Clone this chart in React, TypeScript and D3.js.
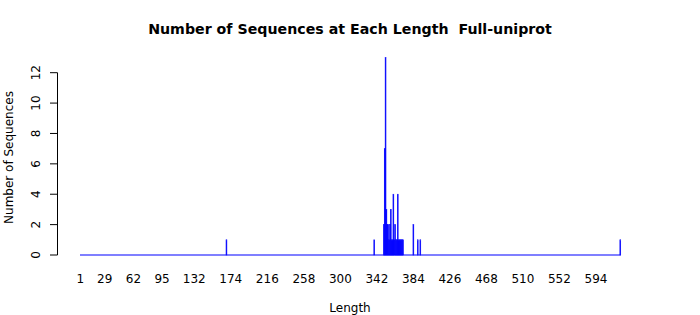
import React from "react";
import * as d3 from "d3";

const minLength = 1;
const maxLength = 622;
const barLengths = [169, 339, 350, 351, 352, 353, 354, 355, 356, 357, 358, 359, 360, 361, 362, 363, 364, 365, 366, 367, 368, 369, 370, 371, 372, 384, 389, 392, 622];
const barCounts = [1, 1, 2, 7, 13, 3, 2, 2, 1, 2, 3, 1, 1, 4, 1, 2, 1, 1, 4, 1, 1, 1, 1, 1, 1, 2, 1, 1, 1];
const xTickLabels = [1, 29, 62, 95, 132, 174, 216, 258, 300, 342, 384, 426, 468, 510, 552, 594];
const yTicks = [0, 2, 4, 6, 8, 10, 12];

const W = 700;
const H = 315;
const FONT = "DejaVu Sans, Verdana, sans-serif";

export default function App() {
  const x = d3.scaleLinear().domain([minLength, maxLength]).range([80.4, 620.3]);
  const y = d3.scaleLinear().domain([0, 12]).range([255, 72.7]);
  const step = x(2) - x(1);
  const bw = step * 0.95;
  const y0 = y(0);

  return (
    <svg width={W} height={H} style={{ position: "absolute", left: 0, top: 0, background: "#fff" }}>
      <rect x={0} y={0} width={W} height={H} fill="#fff" />
      <text x={350} y={34} textAnchor="middle" fontFamily={FONT} fontWeight="bold" fontSize={14.2} style={{ whiteSpace: "pre" }}>
        {"Number of Sequences at Each Length  Full-uniprot"}
      </text>
      {/* baseline formed by zero-height bars */}
      <line x1={x(minLength) - bw / 2} x2={x(maxLength) + bw / 2} y1={y0} y2={y0} stroke="#0000ff" strokeWidth={1.2} />
      {barLengths.map((len, i) => (
        <rect
          key={i}
          x={x(len) - bw / 2}
          y={y(barCounts[i])}
          width={bw}
          height={y0 - y(barCounts[i])}
          fill="#0000ff"
          stroke="#0000ff"
          strokeWidth={0.6}
        />
      ))}
      {/* y axis */}
      <line x1={57.5} x2={57.5} y1={y(0)} y2={y(12)} stroke="#000" strokeWidth={1} />
      {yTicks.map((t) => (
        <g key={t}>
          <line x1={50} x2={57.5} y1={y(t)} y2={y(t)} stroke="#000" strokeWidth={1} />
          <text
            transform={`translate(${40},${y(t)}) rotate(-90)`}
            textAnchor="middle"
            fontFamily={FONT}
            fontSize={12}
          >
            {t}
          </text>
        </g>
      ))}
      {xTickLabels.map((t) => (
        <text key={t} x={x(t)} y={283} textAnchor="middle" fontFamily={FONT} fontSize={12}>
          {t}
        </text>
      ))}
      <text x={350} y={312} textAnchor="middle" fontFamily={FONT} fontSize={12}>
        Length
      </text>
      <text
        transform={`translate(${13},${157.5}) rotate(-90)`}
        textAnchor="middle"
        fontFamily={FONT}
        fontSize={12}
      >
        Number of Sequences
      </text>
    </svg>
  );
}
